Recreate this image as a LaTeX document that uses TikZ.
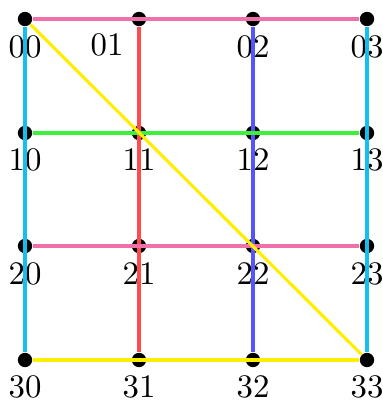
\documentclass[tikz,border=0pt]{standalone}
\definecolor{cpink}{RGB}{240,112,170}
\definecolor{ccyan}{RGB}{20,190,240}
\definecolor{cred}{RGB}{255,75,75}
\definecolor{cblue}{RGB}{85,85,255}
\definecolor{cgreen}{RGB}{60,240,60}
\definecolor{cyell}{RGB}{255,238,0}
\begin{document}
\begin{tikzpicture}[x=0.32pt,y=-0.32pt,
  dot/.style={circle,fill=black,inner sep=0pt,minimum size=4.6pt},
  lab/.style={inner sep=0pt,font=\fontsize{10.5}{12}\selectfont},
  edge/.style={line width=1pt}]
\useasboundingbox (0,0) rectangle (383,401);
\foreach \r/\y in {0/19,1/133,2/246,3/360}{
  \foreach \c/\x in {0/25,1/139,2/253,3/367}{
    \node[dot] (n\r\c) at (\x,\y) {};
  }
}
\foreach \c/\x in {0/25,2/253,3/367}{
  \node[lab] (l0\c) at (\x,47) {0\c};
}
\node[lab] (l01) at (107,45) {01};
\foreach \r/\y in {1/160,2/274,3/387}{
  \foreach \c/\x in {0/25,1/139,2/253,3/367}{
    \node[lab] (l\r\c) at (\x,\y) {\r\c};
  }
}
\draw[edge,ccyan] (n00) -- (n30);
\draw[edge,cred] (n01) -- (n31);
\draw[edge,cblue] (n02) -- (n32);
\draw[edge,ccyan] (n03) -- (n33);
\draw[edge,cpink] (n00) -- (n03);
\draw[edge,cgreen] (n10) -- (n13);
\draw[edge,cpink] (n20) -- (n23);
\draw[edge,cyell] (n30) -- (n33);
\draw[edge,cyell] (n00) -- (n33);
\end{tikzpicture}
\end{document}
